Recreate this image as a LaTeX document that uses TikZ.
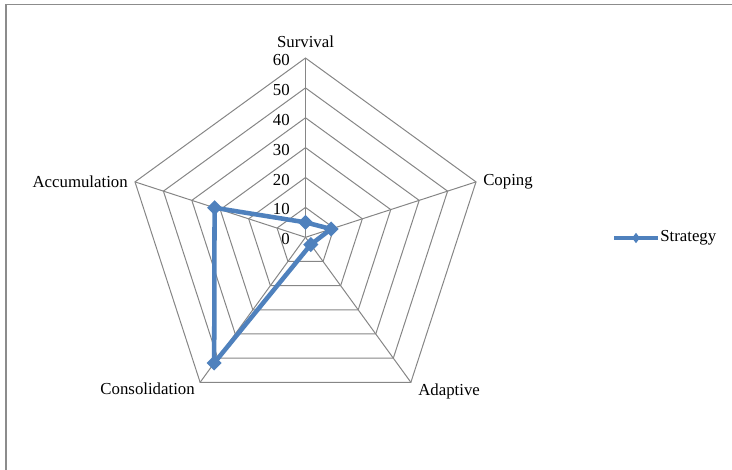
\documentclass[tikz,border=0pt]{standalone}
\usepackage{fontspec}
\setmainfont{Liberation Serif}
\usetikzlibrary{positioning}
\usetikzlibrary{shapes.geometric}
\tikzset{web/.style = {draw=mgrid, line width = 0.75pt}}
\tikzset{lbl/.style = {inner sep = 0, font = \fontsize{12.6}{15}\selectfont}}
\tikzset{series/.style = {draw=mblue, line width = 3.4pt, line join = round}}
\tikzset{diam/.style = {diamond, fill=mblue, inner sep = 0, minimum size = 11.5pt}}
\tikzset{frame/.style = {draw=mframe, line width = 1.1pt}}
\definecolor{mblue}{RGB}{79, 129, 189}
\definecolor{mgrid}{RGB}{134, 134, 134}
\definecolor{mframe}{RGB}{140, 140, 140}

\begin{document}
\begin{tikzpicture}[x=0.75pt, y=0.75pt]
      \useasboundingbox (0, 0) rectangle (732, -470);
      \draw [frame] (6, -470) -- (6, -4.5) -- (732, -4.5);

      \begin{scope}[shift={(305.5, -237.3)}]
        \foreach \r in {1, ..., 6} {
          \draw [web] (90:\r*29.88) -- (18:\r*29.88) -- (-54:\r*29.88)
                      -- (-126:\r*29.88) -- (162:\r*29.88) -- cycle;
        }
        \foreach \a in {90, 18, -54, -126, 162} {
          \draw [web] (0, 0) -- (\a:179.3);
        }
        \foreach \v in {0, 10, ..., 60} {
          \node [lbl, anchor=east] (tick\v) at (-15.5, \v*2.988 - 2) {\v};
        }

        \node [lbl] (survival) at (0, 196) {Survival};
        \node [lbl, anchor=west] (coping) at (177.5, 56) {Coping};
        \node [lbl, anchor=west] (adaptive) at (112.5, -153.7) {Adaptive};
        \node [lbl, anchor=east] (consolidation) at (-110.5, -151.7) {Consolidation};
        \node [lbl, anchor=east] (accumulation) at (-177.5, 56) {Accumulation};

        \coordinate (d1) at (90:5*2.988);
        \coordinate (d2) at (18:9*2.988);
        \coordinate (d3) at (-54:3*2.988);
        \coordinate (d4) at (-126:52*2.988);
        \coordinate (d5) at (162:32*2.988);
        \draw [series] (d1) -- (d2) -- (d3) -- (d4) -- (d5) -- cycle;
        \foreach \i in {1, ..., 5} {
          \node [diam] (m\i) at (d\i) {};
        }
      \end{scope}

      \coordinate (legA) at (614, -238);
      \coordinate (legB) at (658, -238);
      \draw [series] (legA) -- (legB);
      \node [diam, minimum width = 6pt, minimum height = 8pt] (legmark) at (636, -238) {};
      \node [lbl, anchor=west, right=1.5pt of legB] (legtext) {Strategy};
    \end{tikzpicture}
\end{document}
